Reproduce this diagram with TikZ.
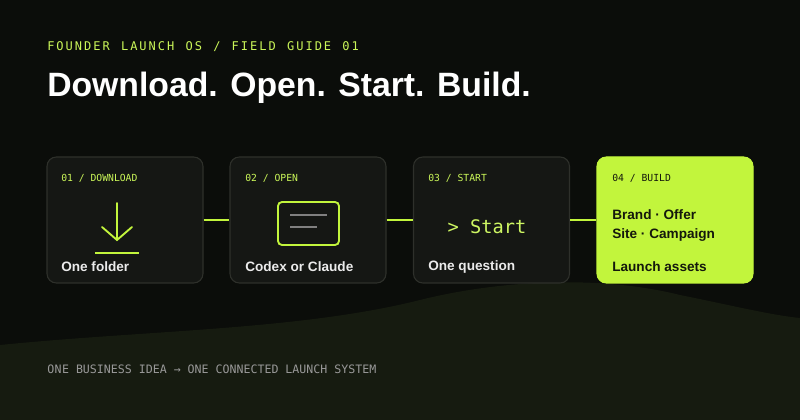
\documentclass[tikz,border=0pt]{standalone}
\usepackage{fontspec}
\setmainfont{Liberation Sans}
\newfontfamily\monof{DejaVu Sans Mono}
\definecolor{bg}{HTML}{0B0D0A}
\definecolor{boxf}{HTML}{151714}
\definecolor{boxd}{HTML}{2E302B}
\definecolor{lime}{HTML}{C2F53C}
\definecolor{hill}{HTML}{161B10}
\definecolor{dark}{HTML}{14180C}
\begin{document}
\begin{tikzpicture}[x=0.75pt,y=-0.75pt,
 card/.style={draw=boxd,fill=boxf,line width=0.8pt,rounded corners=7pt,minimum width=117pt,minimum height=94.5pt,inner sep=0pt},
 lab/.style={anchor=west,inner sep=0pt,font=\monof\fontsize{7.3}{8}\selectfont,text=lime!85!white},
 big/.style={anchor=west,inner sep=0pt,font=\bfseries\fontsize{10.2}{12}\selectfont,text=white!92!black},
 conn/.style={draw=lime,line width=1.3pt}]
\fill[bg] (0,0) rectangle (800,420);
\useasboundingbox (0,0) rectangle (800,420);
\fill[hill] (0,345) .. controls (150,330) and (300,330) .. (420,300) .. controls (500,280) and (600,275) .. (680,295) .. controls (730,305) and (770,315) .. (800,318) -- (800,420) -- (0,420) -- cycle;
\node[anchor=west,inner sep=0pt,font=\monof\fontsize{9}{10}\selectfont,text=lime!85!white] (hdr) at (47,47) {F\,O\,U\,N\,D\,E\,R\, \,L\,A\,U\,N\,C\,H\, \,O\,S\, \,/\, \,F\,I\,E\,L\,D\, \,G\,U\,I\,D\,E\, \,0\,1};
\node[anchor=west,inner sep=0pt,font=\bfseries\fontsize{25.3}{28}\selectfont,text=white] (title) at (47,88) {Download. Open. Start. Build.};
\node[card] (b1) at (125,220) {};
\node[card] (b2) at (308,220) {};
\node[card] (b3) at (491.5,220) {};
\node[card,fill=lime,draw=lime] (b4) at (675,220) {};
\draw[conn] (b1.east) -- (b2.west);
\draw[conn] (b2.east) -- (b3.west);
\draw[conn] (b3.east) -- (b4.west);
\node[lab] (l1) at (61,178) {01 / DOWNLOAD};
\node[lab] (l2) at (245,178) {02 / OPEN};
\node[lab] (l3) at (428,178) {03 / START};
\node[lab,text=dark] (l4) at (612,178) {04 / BUILD};
\node[big] (t1) at (61,267) {One folder};
\node[big] (t2) at (245,267) {Codex or Claude};
\node[big] (t3) at (428,267) {One question};
\node[big,text=dark] (t4) at (612,267) {Launch assets};
\node[big,text=dark] (t5) at (612,215) {Brand · Offer};
\node[big,text=dark] (t6) at (612,235) {Site · Campaign};
% download icon
\draw[lime,line width=1.4pt,line cap=round] (117,203) -- (117,240) (102,227) -- (117,240) -- (132,227);
\draw[lime,line width=1.6pt] (95,253) -- (139,253);
% open icon
\draw[lime,line width=1.4pt,rounded corners=3pt] (278,202) rectangle (339,245);
\draw[gray,line width=1.3pt] (290,215) -- (327,215) (290,227) -- (317,227);
\node[font=\monof\fontsize{14}{16}\selectfont,text=lime!80!white] (st) at (487,227) {> Start};
\node[anchor=west,inner sep=0pt,font=\monof\fontsize{8.7}{10}\selectfont,text=gray!80!white] (ftr) at (47,369) {O\kern.3pt N\kern.3pt E BUSINESS IDEA → ONE CONNECTED LAUNCH SYSTEM};
\end{tikzpicture}
\end{document}
